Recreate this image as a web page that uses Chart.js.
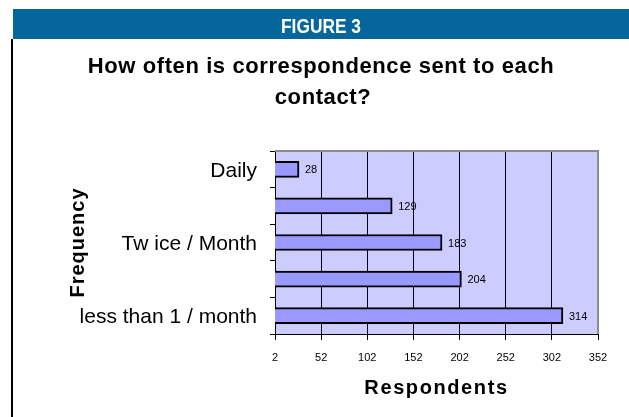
<!DOCTYPE html>
<html>
<head>
<meta charset="utf-8">
<script src="https://cdn.jsdelivr.net/npm/chart.js@4.4.0/dist/chart.umd.min.js"></script>
<style>
  html, body { margin: 0; padding: 0; background: #fff; }
  canvas { display: block; }
</style>
</head>
<body>
<canvas id="figure3" width="629" height="417"></canvas>
<script>
var categories = ['Daily', '', 'Tw ice / Month', '', 'less than 1 / month'];
var respondents = [28, 129, 183, 204, 314];
var xTicks = [2, 52, 102, 152, 202, 252, 302, 352];
var bannerText = 'FIGURE 3';
var titleLines = ['How often is correspondence sent to each', 'contact?'];
var xTitle = 'Respondents';
var yTitle = 'Frequency';

var fontFamily = "'Liberation Sans', Arial, Helvetica, sans-serif";
Chart.defaults.font.family = fontFamily;
Chart.defaults.color = '#000';

function spaced(ctx, px) {
  if ('letterSpacing' in ctx) ctx.letterSpacing = px + 'px';
}

var decorPlugin = {
  id: 'decor',
  beforeDraw: function(chart) {
    var ctx = chart.ctx, a = chart.chartArea;
    ctx.save();
    // blue banner + left rule
    ctx.fillStyle = '#04669a';
    ctx.fillRect(13, 9, chart.width - 13, 30);
    ctx.fillStyle = '#000';
    ctx.fillRect(11, 39, 2, chart.height - 39);

    // banner text, condensed
    ctx.font = 'bold 20px ' + fontFamily;
    var w = ctx.measureText(bannerText).width;
    ctx.save();
    ctx.translate(321, 33);
    ctx.scale(80 / w, 1);
    ctx.fillStyle = '#fff';
    ctx.textAlign = 'center';
    ctx.textBaseline = 'alphabetic';
    ctx.fillText(bannerText, 0, 0);
    ctx.restore();

    // title
    ctx.fillStyle = '#000';
    ctx.font = 'bold 22px ' + fontFamily;
    ctx.textAlign = 'center';
    ctx.textBaseline = 'alphabetic';
    spaced(ctx, 0.6);
    ctx.fillText(titleLines[0], 321, 73);
    ctx.fillText(titleLines[1], 323, 104);
    spaced(ctx, 0);

    // plot background
    ctx.fillStyle = '#ccccff';
    ctx.fillRect(a.left, a.top, a.right - a.left, a.bottom - a.top);
    ctx.restore();
  },
  afterDatasetsDraw: function(chart) {
    var ctx = chart.ctx;
    ctx.save();
    ctx.font = '11px ' + fontFamily;
    ctx.fillStyle = '#000';
    ctx.textAlign = 'left';
    ctx.textBaseline = 'middle';
    chart.getDatasetMeta(0).data.forEach(function(bar, i) {
      ctx.fillText(respondents[i], bar.x + 6, bar.y + 1);
    });
    ctx.restore();
  },
  afterDraw: function(chart) {
    var ctx = chart.ctx, a = chart.chartArea;
    ctx.save();
    // grey frame on top and right of plot
    ctx.strokeStyle = '#8c8c8c';
    ctx.lineWidth = 2;
    ctx.beginPath();
    ctx.moveTo(a.left, a.top);
    ctx.lineTo(a.right, a.top);
    ctx.lineTo(a.right, a.bottom);
    ctx.stroke();

    // axis titles
    ctx.fillStyle = '#000';
    ctx.font = 'bold 20px ' + fontFamily;
    ctx.textAlign = 'center';
    ctx.textBaseline = 'middle';
    spaced(ctx, 1.6);
    ctx.fillText(xTitle, (a.left + a.right) / 2, 388);
    spaced(ctx, 1);
    ctx.translate(78, (a.top + a.bottom) / 2);
    ctx.rotate(-Math.PI / 2);
    ctx.fillText(yTitle, 0, 0);
    spaced(ctx, 0);
    ctx.restore();
  }
};

var chartData = {
  labels: categories,
  datasets: [{
    data: respondents,
    backgroundColor: '#9999ff',
    borderColor: '#000',
    borderWidth: 2,
    barThickness: 16
  }]
};

var chartOptions = {
  indexAxis: 'y',
  responsive: false,
  animation: false,
  layout: {
    padding: { top: 151, right: 31, left: 0, bottom: 0 }
  },
  scales: {
    x: {
      type: 'linear',
      min: 2,
      max: 352,
      afterBuildTicks: function(scale) {
        scale.ticks = xTicks.map(function(v) { return { value: v }; });
      },
      afterFit: function(scale) { scale.height = 83; },
      grid: { color: '#000', lineWidth: 1, tickLength: 6 },
      border: { color: '#000', width: 1 },
      ticks: { font: { size: 11 }, padding: 11, maxRotation: 0, autoSkip: false }
    },
    y: {
      afterFit: function(scale) { scale.width = 275; },
      grid: { color: '#000', drawOnChartArea: false, tickLength: 5, offset: true },
      border: { color: '#000', width: 1 },
      ticks: { font: { size: 21 }, padding: 13, labelOffset: 2, autoSkip: false }
    }
  },
  plugins: {
    legend: { display: false },
    tooltip: { enabled: false }
  }
};

var figureChart = new Chart(document.getElementById('figure3'), {
  type: 'bar',
  data: chartData,
  options: chartOptions,
  plugins: [decorPlugin]
});
</script>
</body>
</html>
